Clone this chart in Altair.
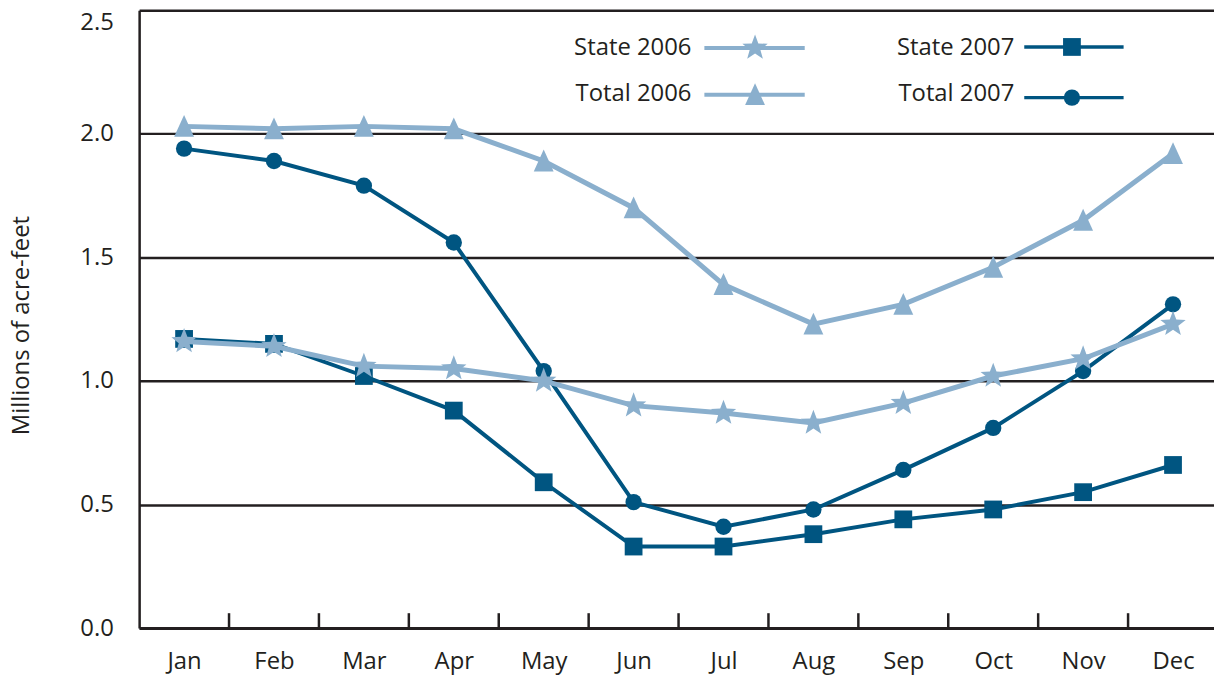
import math
import altair as alt
import pandas as pd

months = ["Jan", "Feb", "Mar", "Apr", "May", "Jun", "Jul", "Aug", "Sep", "Oct", "Nov", "Dec"]
state_2006 = [1.16, 1.14, 1.06, 1.05, 1.00, 0.90, 0.87, 0.83, 0.91, 1.02, 1.09, 1.23]
total_2006 = [2.03, 2.02, 2.03, 2.02, 1.89, 1.70, 1.39, 1.23, 1.31, 1.46, 1.65, 1.92]
state_2007 = [1.17, 1.15, 1.02, 0.88, 0.59, 0.33, 0.33, 0.38, 0.44, 0.48, 0.55, 0.66]
total_2007 = [1.94, 1.89, 1.79, 1.56, 1.04, 0.51, 0.41, 0.48, 0.64, 0.81, 1.04, 1.31]

LIGHT = "#8AAFCD"
DARK = "#005581"
INK = "#231F20"
FONT = "Open Sans"
FS = 24

W, H = 1082, 622
BAND = 90.5  # pixel width of one month slot

# five-pointed star as a custom symbol path (unit radius)
_pts = []
for i in range(10):
    ang = math.radians(-90 + 36 * i)
    r = 1.0 if i % 2 == 0 else 0.42
    _pts.append(f"{r * math.cos(ang):.3f},{r * math.sin(ang):.3f}")
STAR = "M" + "L".join(_pts) + "Z"
TRI = "M0,-1.15L1,1.05L-1,1.05Z"

month_array = "[" + ",".join(f"'{m}'" for m in months) + "]"
x_scale = alt.Scale(domain=[0, W / BAND], nice=False, zero=False)
x_axis = alt.Axis(title=None, ticks=False, values=[i + 0.5 for i in range(len(months))],
                  labelExpr=f"{month_array}[floor(datum.value)]",
                  labelFont=FONT, labelFontSize=FS, labelColor=INK, labelPadding=22,
                  domainColor=INK, domainWidth=3, labelAngle=0, grid=False, orient="bottom",
                  labelFlush=False, labelOverlap=False)
x_enc = alt.X("pos:Q", scale=x_scale, axis=x_axis)
y_enc = alt.Y("value:Q", scale=alt.Scale(domain=[0, 2.5], nice=False, zero=True),
              axis=alt.Axis(title="Millions of acre-feet", values=[0, 0.5, 1.0, 1.5, 2.0, 2.5],
                            format=".1f", ticks=False, labelFont=FONT, labelFontSize=FS,
                            labelColor=INK, labelPadding=26, domainColor=INK, domainWidth=2.5,
                            grid=True, gridColor=INK, gridWidth=2.5, gridOpacity=1,
                            labelOffset={"condition": {"test": "datum.value == 2.5", "value": 12}, "value": 0},
                            titleFont=FONT, titleFontSize=FS, titleColor=INK, titleFontWeight="normal",
                            titleAngle=-90, titleAlign="center", titleBaseline="middle",
                            titleX=-118, titleY=317, orient="left"))


def series_layers(vals, color, width, shape, size):
    df = pd.DataFrame({"month": months, "pos": [i + 0.5 for i in range(len(months))], "value": vals})
    line = alt.Chart(df).mark_line(color=color, strokeWidth=width).encode(x=x_enc, y=y_enc)
    pts = alt.Chart(df).mark_point(shape=shape, filled=True, color=color, size=size, opacity=1,
                                   strokeWidth=0).encode(x=x_enc, y=y_enc)
    return [line, pts]


# ticks between months (pointing up from the x axis)
tick_df = pd.DataFrame({"pos": list(range(1, len(months)))})
ticks = alt.Chart(tick_df).mark_rule(color=INK, strokeWidth=2.5).encode(
    x=x_enc, y=alt.value(H - 15), y2=alt.value(H))

one = alt.Data(values=[{"a": 1}])


def legend_entry(label, text_right, text_y, line_x0, line_x1, mark_x, mark_y, color, width, shape, size):
    txt = alt.Chart(one).mark_text(text=label, align="right", baseline="middle", font=FONT,
                                   fontSize=FS, color=INK).encode(
        x=alt.value(text_right), y=alt.value(text_y))
    rule = alt.Chart(one).mark_rule(color=color, strokeWidth=width).encode(
        x=alt.value(line_x0), x2=alt.value(line_x1), y=alt.value(mark_y))
    pt = alt.Chart(one).mark_point(shape=shape, filled=True, color=color, size=size, opacity=1,
                                   strokeWidth=0).encode(x=alt.value(mark_x), y=alt.value(mark_y))
    return [rule, pt, txt]


layers = []
layers += series_layers(state_2007, DARK, 4, "square", 320)
layers += series_layers(total_2007, DARK, 4, "circle", 270)
layers += series_layers(state_2006, LIGHT, 5, STAR, 720)
layers += series_layers(total_2006, LIGHT, 5, TRI, 400)
layers.append(ticks)
layers += legend_entry("State 2006", 556, 38, 569, 670, 620, 38, LIGHT, 4, STAR, 720)
layers += legend_entry("Total 2006", 556, 84, 569, 670, 620, 85, LIGHT, 4, TRI, 400)
layers += legend_entry("State 2007", 881, 38, 891, 991, 939, 37, DARK, 3.5, "square", 320)
layers += legend_entry("Total 2007", 881, 84, 891, 991, 939, 88, DARK, 3.5, "circle", 270)

chart = alt.layer(*layers).properties(
    width=W, height=H,
    autosize=alt.AutoSizeParams(type="none"),
    padding={"left": 132, "top": 0, "right": 0, "bottom": 46},
).configure_view(stroke=None).configure(background="white")

chart.save("out.html", embed_options={"renderer": "svg", "actions": False})
